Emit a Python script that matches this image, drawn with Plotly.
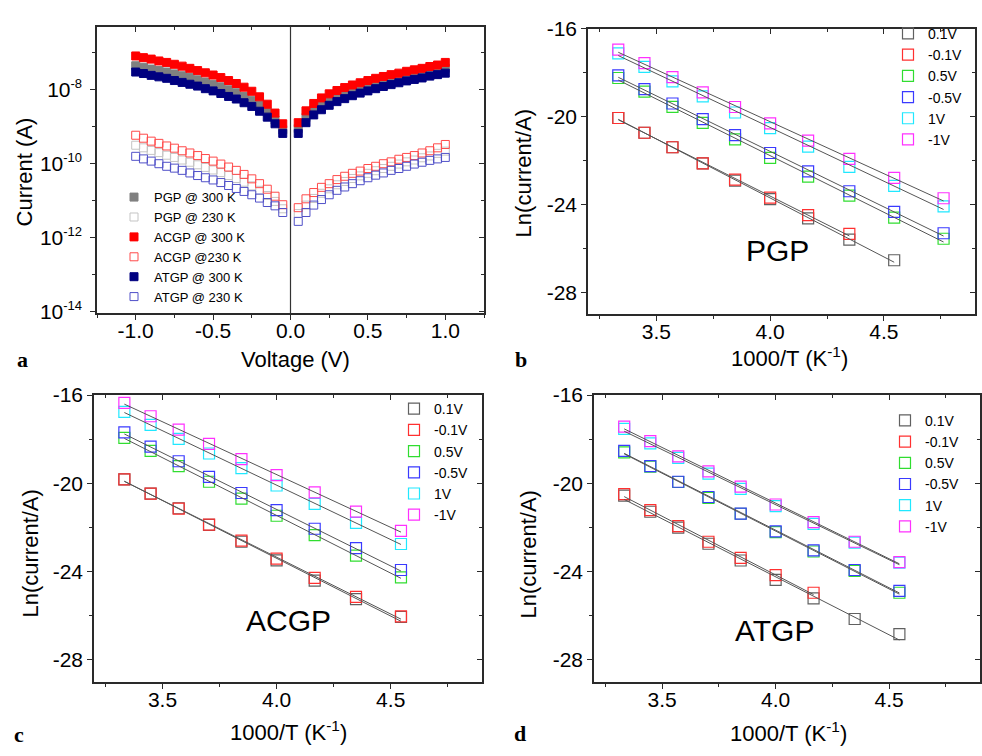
import numpy as np
import plotly.graph_objects as go

# ---------------- Panel a data (I-V, log10 of current in A) ----------------
voltage = [-1.0, -0.95, -0.9, -0.85, -0.8, -0.75, -0.7, -0.65, -0.6, -0.55,
           -0.5, -0.45, -0.4, -0.35, -0.3, -0.25, -0.2, -0.15, -0.1, -0.05,
           0.05, 0.1, 0.15, 0.2, 0.25, 0.3, 0.35, 0.4, 0.45, 0.5,
           0.55, 0.6, 0.65, 0.7, 0.75, 0.8, 0.85, 0.9, 0.95, 1.0]

pgp_300_log = [-7.35, -7.39, -7.44, -7.48, -7.52, -7.57, -7.62, -7.67, -7.73, -7.79,
               -7.85, -7.92, -8.00, -8.08, -8.18, -8.28, -8.42, -8.60, -8.82, -9.08,
               -9.05, -8.75, -8.55, -8.40, -8.29, -8.19, -8.11, -8.04, -7.97, -7.91,
               -7.85, -7.80, -7.75, -7.70, -7.65, -7.61, -7.56, -7.52, -7.48, -7.42]
pgp_230_log = [-9.50, -9.57, -9.64, -9.70, -9.77, -9.83, -9.90, -9.96, -10.03, -10.10,
               -10.17, -10.24, -10.32, -10.40, -10.50, -10.60, -10.72, -10.86, -11.02, -11.22,
               -11.35, -11.12, -10.94, -10.80, -10.68, -10.57, -10.48, -10.40, -10.33, -10.26,
               -10.19, -10.13, -10.07, -10.01, -9.95, -9.90, -9.84, -9.79, -9.72, -9.66]
acgp_300_log = [-7.085, -7.13, -7.17, -7.22, -7.26, -7.31, -7.36, -7.42, -7.48, -7.54,
                -7.60, -7.67, -7.75, -7.83, -7.93, -8.04, -8.19, -8.39, -8.63, -8.92,
                -8.89, -8.57, -8.37, -8.22, -8.11, -8.02, -7.94, -7.87, -7.81, -7.75,
                -7.69, -7.64, -7.59, -7.55, -7.50, -7.46, -7.42, -7.37, -7.33, -7.26]
acgp_230_log = [-9.23, -9.31, -9.39, -9.45, -9.52, -9.58, -9.65, -9.71, -9.78, -9.86,
                -9.93, -10.01, -10.09, -10.18, -10.29, -10.41, -10.54, -10.69, -10.88, -11.11,
                -11.19, -10.95, -10.78, -10.64, -10.54, -10.43, -10.34, -10.26, -10.20, -10.13,
                -10.07, -10.00, -9.95, -9.88, -9.83, -9.78, -9.71, -9.65, -9.57, -9.48]
atgp_300_log = [-7.52, -7.56, -7.61, -7.65, -7.69, -7.75, -7.80, -7.85, -7.90, -7.97,
                -8.03, -8.10, -8.18, -8.25, -8.35, -8.45, -8.58, -8.74, -8.92, -9.18,
                -9.18, -8.89, -8.68, -8.54, -8.42, -8.32, -8.24, -8.16, -8.09, -8.03,
                -7.97, -7.91, -7.86, -7.81, -7.76, -7.72, -7.68, -7.63, -7.59, -7.55]
atgp_230_log = [-9.80, -9.87, -9.93, -10.00, -10.07, -10.12, -10.18, -10.25, -10.32, -10.38,
                -10.44, -10.51, -10.59, -10.67, -10.75, -10.84, -10.93, -11.05, -11.14, -11.32,
                -11.56, -11.32, -11.12, -10.97, -10.84, -10.72, -10.63, -10.54, -10.46, -10.38,
                -10.31, -10.25, -10.18, -10.13, -10.07, -10.01, -9.96, -9.91, -9.87, -9.83]

# ---------------- Panels b-d data (Arrhenius, ln(I/A)) ----------------
inv_T = [3.333, 3.448, 3.571, 3.704, 3.846, 4.000, 4.167, 4.348, 4.545, 4.762]
bias_labels = ["0.1V", "-0.1V", "0.5V", "-0.5V", "1V", "-1V"]

pgp_b = {
    "0.1V":  [-20.07, -20.74, -21.40, -22.13, -22.92, -23.76, -24.63, -25.60, -26.54],
    "-0.1V": [-20.07, -20.74, -21.40, -22.13, -22.87, -23.69, -24.49, -25.34],
    "0.5V":  [-18.25, -18.87, -19.56, -20.29, -21.04, -21.88, -22.74, -23.60, -24.60, -25.56],
    "-0.5V": [-18.13, -18.76, -19.41, -20.12, -20.85, -21.66, -22.50, -23.40, -24.34, -25.31],
    "1V":    [-17.13, -17.74, -18.40, -19.09, -19.82, -20.53, -21.37, -22.29, -23.16, -24.09],
    "-1V":   [-16.96, -17.57, -18.21, -18.90, -19.57, -20.31, -21.10, -21.93, -22.79, -23.72],
}
acgp_c = {
    "0.1V":  [-19.82, -20.47, -21.13, -21.88, -22.65, -23.49, -24.41, -25.25, -26.06],
    "-0.1V": [-19.82, -20.47, -21.15, -21.87, -22.60, -23.41, -24.29, -25.15, -26.03],
    "0.5V":  [-17.94, -18.53, -19.22, -19.93, -20.69, -21.47, -22.35, -23.28, -24.26],
    "-0.5V": [-17.69, -18.34, -19.00, -19.71, -20.44, -21.22, -22.06, -22.94, -23.93],
    "1V":    [-16.76, -17.35, -17.99, -18.65, -19.31, -20.10, -20.93, -21.79, -22.75],
    "-1V":   [-16.35, -16.96, -17.57, -18.21, -18.90, -19.63, -20.41, -21.28, -22.16],
}
atgp_d = {
    "0.1V":  [-20.56, -21.29, -22.01, -22.74, -23.50, -24.38, -25.22, -26.15, -26.84],
    "-0.1V": [-20.49, -21.22, -21.94, -22.65, -23.38, -24.16, -24.96],
    "0.5V":  [-18.60, -19.24, -19.94, -20.66, -21.38, -22.21, -23.09, -23.97, -24.96],
    "-0.5V": [-18.53, -19.22, -19.93, -20.62, -21.37, -22.18, -23.04, -23.93, -24.88],
    "1V":    [-17.53, -18.19, -18.85, -19.56, -20.25, -21.03, -21.84, -22.69, -23.60],
    "-1V":   [-17.43, -18.09, -18.78, -19.46, -20.15, -20.96, -21.76, -22.65, -23.57],
}

# tick labels
a_xticks = [-1.0, -0.5, 0.0, 0.5, 1.0]
a_xticktext = ["-1.0", "-0.5", "0.0", "0.5", "1.0"]
a_yticks = [1e-14, 1e-12, 1e-10, 1e-8]
a_ytickexp = ["-14", "-12", "-10", "-8"]
arr_xticks = [3.5, 4.0, 4.5]
arr_xticktext = ["3.5", "4.0", "4.5"]
arr_yticks = [-28, -24, -20, -16]
arr_yticktext = ["-28", "-24", "-20", "-16"]

# ---------------- styling ----------------
W, H = 982, 756
FONT = "Arial, Liberation Sans, sans-serif"
SERIF = "Liberation Serif, Times New Roman, serif"
AXC = "#2a2a2a"
bias_colors = {"0.1V": "#606060", "-0.1V": "#ff3030", "0.5V": "#30dd30",
               "-0.5V": "#3a3aff", "1V": "#20e8ff", "-1V": "#ff30ff"}
FITC = "#555555"

def px_x(p):
    return p / W

def px_y(p):
    return 1 - p / H

# plot-area domains (pixels -> paper)
dom = {
    "a": ([97, 484], [15, 310]),
    "b": ([588, 975], [17, 311]),
    "c": ([94, 482], [394, 689]),
    "d": ([594, 980], [394, 689]),
}

fig = go.Figure()

# ---------- Panel a traces ----------
series_a = [
    ("PGP @ 300 K", pgp_300_log, "square", "#808080"),
    ("PGP @ 230 K", pgp_230_log, "square-open", "#c4c4c4"),
    ("ACGP @ 300 K", acgp_300_log, "square", "#ff0000"),
    ("ACGP @230 K", acgp_230_log, "square-open", "#ff4a4a"),
    ("ATGP @ 300 K", atgp_300_log, "square", "#000080"),
    ("ATGP @ 230 K", atgp_230_log, "square-open", "#5050c8"),
]
for name, logs, sym, col in series_a:
    cur = [10 ** v for v in logs]
    fig.add_trace(go.Scatter(
        x=voltage, y=cur, mode="markers", name=name,
        marker=dict(symbol=sym, size=8, color=col,
                    line=dict(color=col, width=1)),
        xaxis="x", yaxis="y", legend="legend"))

# ---------- Panels b, c, d traces ----------
panel_data = [("x2", "y2", "legend2", pgp_b),
              ("x3", "y3", "legend3", acgp_c),
              ("x4", "y4", "legend4", atgp_d)]
for xa, ya, lg, data in panel_data:
    for lab in bias_labels:
        yv = data[lab]
        xv = inv_T[:len(yv)]
        fig.add_trace(go.Scatter(
            x=xv, y=yv, mode="markers", name=lab,
            marker=dict(symbol="square-open", size=11, color=bias_colors[lab],
                        line=dict(color=bias_colors[lab], width=1.2)),
            xaxis=xa, yaxis=ya, legend=lg))
    for lab in bias_labels:
        yv = data[lab]
        xv = inv_T[:len(yv)]
        k, b0 = np.polyfit(xv, yv, 1)
        xs = [xv[0], xv[-1]]
        fig.add_trace(go.Scatter(
            x=xs, y=[k * xs[0] + b0, k * xs[1] + b0], mode="lines",
            line=dict(color=FITC, width=1), showlegend=False,
            hoverinfo="skip", xaxis=xa, yaxis=ya))

# empty traces so the mirrored (inside-tick) overlay axes are drawn
for xa, ya in [("x5", "y"), ("x", "y5"), ("x6", "y2"), ("x2", "y6"),
               ("x7", "y3"), ("x3", "y7"), ("x8", "y4"), ("x4", "y8")]:
    fig.add_trace(go.Scatter(x=[None], y=[None], mode="markers",
                             showlegend=False, hoverinfo="skip",
                             xaxis=xa, yaxis=ya))

TICKF = dict(family=FONT, size=21, color="black")

def base_axis(**kw):
    d = dict(showline=True, linecolor=AXC, linewidth=1.5, mirror=True,
             ticks="outside", ticklen=5, tickwidth=1.3, tickcolor=AXC,
             showgrid=False, zeroline=False, tickfont=TICKF)
    d.update(kw)
    return d

def mirror_axis(**kw):
    d = dict(showline=False, ticks="inside", ticklen=5, tickwidth=1.3,
             tickcolor=AXC, showgrid=False, zeroline=False,
             showticklabels=False)
    d.update(kw)
    return d

lay = {}
# panel a
ax_a = [px_x(v) for v in dom["a"][0]]
ay_a = [px_y(dom["a"][1][1]), px_y(dom["a"][1][0])]
xa_range = [-1.25, 1.25]
ya_range = [-14.05, -6.29]
ytt = ["10<sup><span style='font-size:13px'>%s</span></sup>" % e for e in a_ytickexp]
ymv = [1e-13, 1e-11, 1e-9, 1e-7]
lay["xaxis"] = base_axis(domain=ax_a, anchor="y", range=xa_range,
                         tickmode="array", tickvals=a_xticks, ticktext=a_xticktext,
                         ticklabelstandoff=-7,
                         minor=dict(tickmode="array", tickvals=[-1.25, -0.75, -0.25, 0.25, 0.75, 1.25],
                                    ticks="outside", ticklen=3, tickcolor=AXC))
lay["yaxis"] = base_axis(domain=ay_a, anchor="x", type="log", range=ya_range,
                         tickmode="array", tickvals=a_yticks, ticktext=ytt,
                         ticklabelstandoff=4,
                         minor=dict(tickmode="array", tickvals=ymv,
                                    ticks="outside", ticklen=3, tickcolor=AXC))
lay["xaxis5"] = mirror_axis(overlaying="x", anchor="y", side="top", range=xa_range,
                            tickmode="array", tickvals=a_xticks,
                            minor=dict(tickmode="array", tickvals=[-0.75, -0.25, 0.25, 0.75],
                                       ticks="inside", ticklen=3, tickcolor=AXC))
lay["yaxis5"] = mirror_axis(overlaying="y", anchor="x", side="right", type="log",
                            range=ya_range, tickmode="array", tickvals=a_yticks,
                            minor=dict(tickmode="array", tickvals=ymv,
                                       ticks="inside", ticklen=3, tickcolor=AXC))

# panels b, c, d
arr_range_x = [3.2, 4.9]
arr_range_y = [-29.0, -16.0]
for i, key in zip([2, 3, 4], ["b", "c", "d"]):
    dx = [px_x(v) for v in dom[key][0]]
    dy = [px_y(dom[key][1][1]), px_y(dom[key][1][0])]
    lay[f"xaxis{i}"] = base_axis(domain=dx, anchor=f"y{i}", range=arr_range_x,
                                 tickmode="array", tickvals=arr_xticks, ticktext=arr_xticktext,
                                 ticklabelstandoff=-7,
                                 minor=dict(tick0=3.25, dtick=0.5, ticks="outside",
                                            ticklen=3, tickcolor=AXC))
    lay[f"yaxis{i}"] = base_axis(domain=dy, anchor=f"x{i}", range=arr_range_y,
                                 tickmode="array", tickvals=arr_yticks, ticktext=arr_yticktext,
                                 minor=dict(tick0=-18, dtick=4, ticks="outside",
                                            ticklen=3, tickcolor=AXC))
    lay[f"xaxis{i + 4}"] = mirror_axis(overlaying=f"x{i}", anchor=f"y{i}", side="top",
                                       range=arr_range_x, tickmode="array", tickvals=arr_xticks,
                                       minor=dict(tick0=3.25, dtick=0.5, ticks="inside",
                                                  ticklen=3, tickcolor=AXC))
    lay[f"yaxis{i + 4}"] = mirror_axis(overlaying=f"y{i}", anchor=f"x{i}", side="right",
                                       range=arr_range_y, tickmode="array", tickvals=arr_yticks,
                                       minor=dict(tick0=-18, dtick=4, ticks="inside",
                                                  ticklen=3, tickcolor=AXC))

# legends
def legend_at(xp, yp, size):
    return dict(x=px_x(xp), y=px_y(yp), xanchor="left", yanchor="top",
                bgcolor="rgba(0,0,0,0)", borderwidth=0,
                font=dict(family=FONT, size=size, color="black"),
                itemsizing="trace", tracegroupgap=0)

lay["legend"] = legend_at(114, 175, 13)
lay["legend2"] = legend_at(888, 6, 14)
lay["legend3"] = legend_at(394, 392, 14)
lay["legend4"] = legend_at(885, 404, 14)

TITLEF = dict(family=FONT, size=22, color="black")
annotations = []

def ann(text, xp, yp, font, angle=0):
    annotations.append(dict(text=text, x=px_x(xp), y=px_y(yp), xref="paper",
                            yref="paper", showarrow=False, xanchor="center",
                            yanchor="middle", font=font, textangle=angle))

# axis titles
ann("Current (A)", 24, 165, TITLEF, -90)
ann("Voltage (V)", 295, 357, TITLEF)
ann("Ln(current/A)", 523, 166, TITLEF, -90)
ann("1000/T (K<sup>-1</sup>)", 789, 355, TITLEF)
ann("Ln(current/A)", 31, 557, TITLEF, -90)
ann("1000/T (K<sup>-1</sup>)", 288, 740, TITLEF)
ann("Ln(current/A)", 528, 558, TITLEF, -90)
ann("1000/T (K<sup>-1</sup>)", 788, 741, TITLEF)

# panel names
PF = dict(family=FONT, size=30, color="black")
ann("PGP", 777, 245, PF)
ann("ACGP", 288, 626, PF)
ann("ATGP", 774, 636, PF)

# panel letters
LF = dict(family=SERIF, size=22, color="black")
ann("<b>a</b>", 22, 357, LF)
ann("<b>b</b>", 521, 357, LF)
ann("<b>c</b>", 19, 743, LF)
ann("<b>d</b>", 520, 742, LF)

shapes = [dict(type="line", xref="x", yref="y domain", x0=0, x1=0, y0=0, y1=1,
               line=dict(color="#333333", width=1.2))]

fig.update_layout(
    width=W, height=H, autosize=False,
    margin=dict(l=0, r=0, t=0, b=0),
    paper_bgcolor="white", plot_bgcolor="white",
    font=dict(family=FONT, color="black"),
    annotations=annotations, shapes=shapes,
    hovermode=False,
    **lay,
)

fig.write_html("out.html", config={"displayModeBar": False},
               post_script="document.body.style.margin='0';")
